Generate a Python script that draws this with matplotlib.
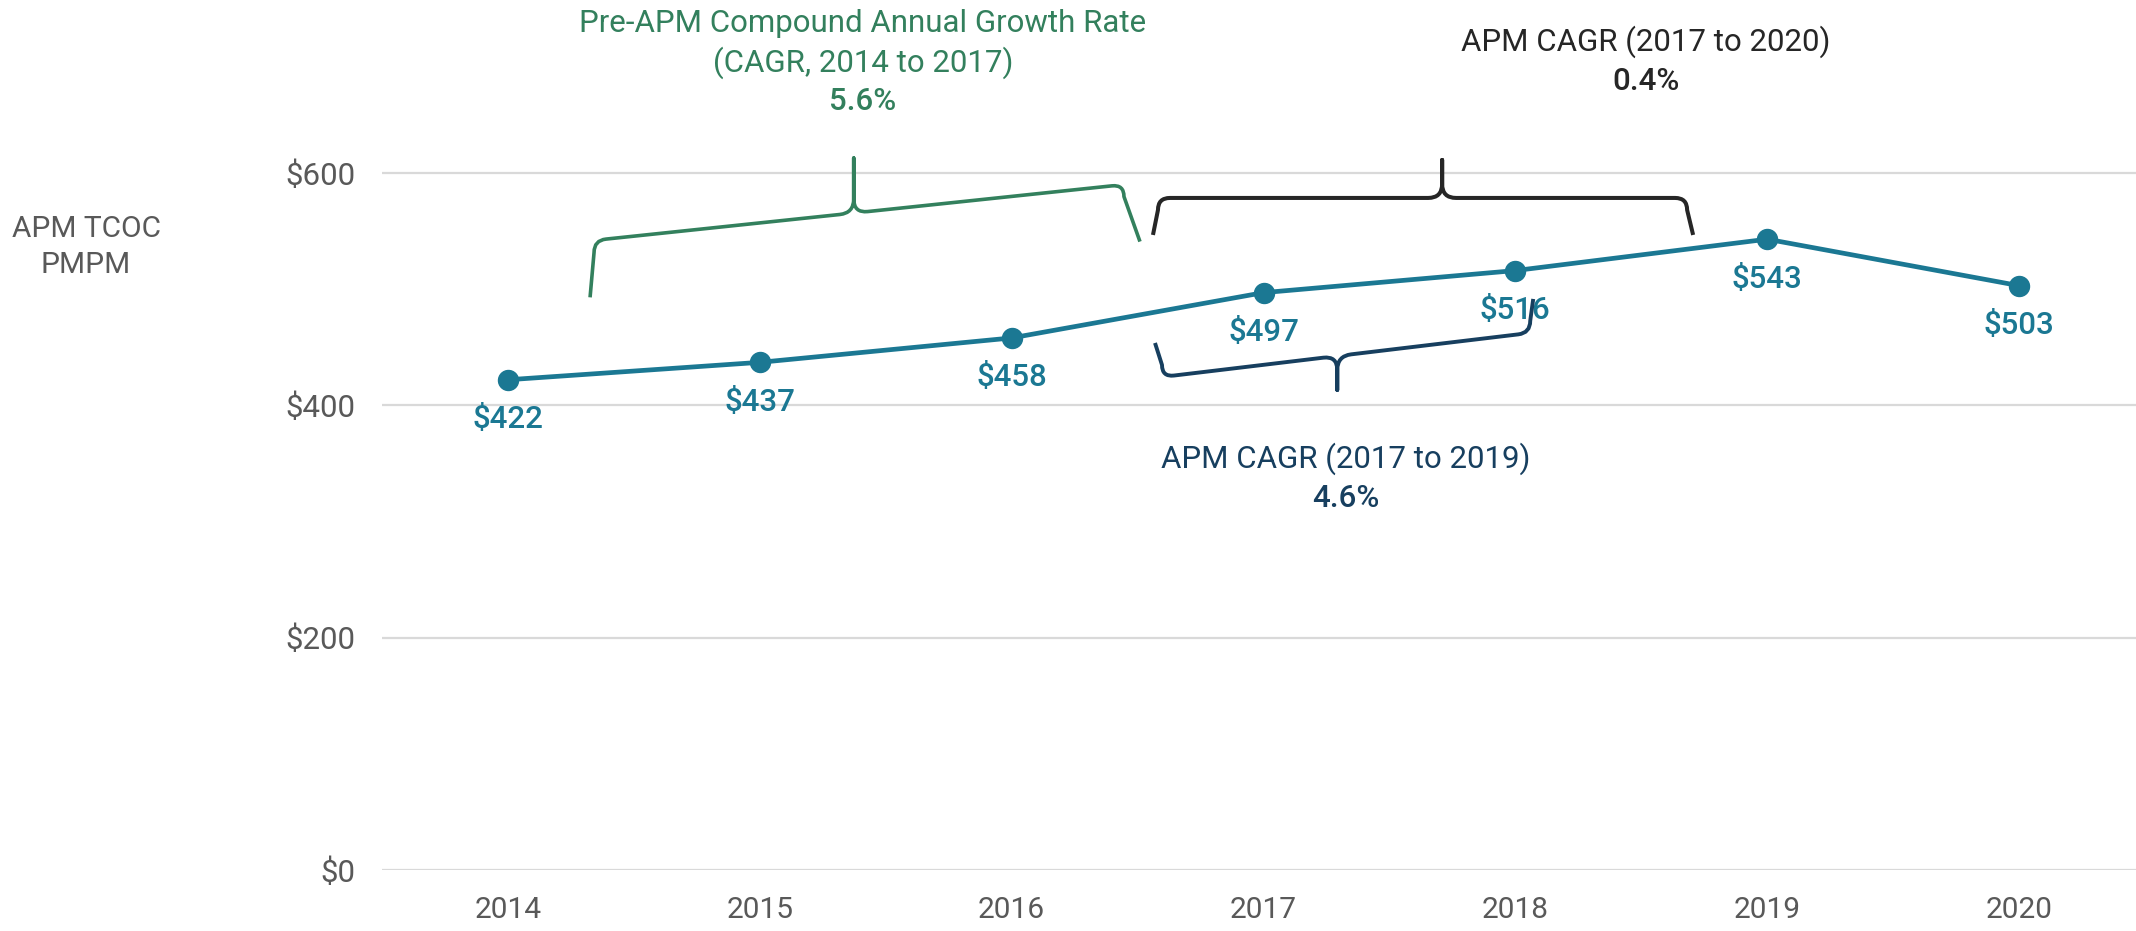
import matplotlib
matplotlib.use("Agg")
import matplotlib.pyplot as plt
from matplotlib.path import Path
from matplotlib.patches import PathPatch
from matplotlib.transforms import IdentityTransform
import numpy as np

# ---------------- data ----------------
years = ["2014", "2015", "2016", "2017", "2018", "2019", "2020"]
tcoc_pmpm = [422, 437, 458, 497, 516, 543, 503]
y_ticks = [0, 200, 400, 600]
y_tick_labels = ["$0", "$200", "$400", "$600"]
y_title = "APM TCOC\nPMPM"

pre_apm_lines = ["Pre-APM Compound Annual Growth Rate", "(CAGR, 2014 to 2017)"]
pre_apm_cagr = "5.6%"
apm_2020_line = "APM CAGR (2017 to 2020)"
apm_2020_cagr = "0.4%"
apm_2019_line = "APM CAGR (2017 to 2019)"
apm_2019_cagr = "4.6%"

# ---------------- style ----------------
W, H, DPI = 2136, 931, 100
LINE_C = "#1B7893"
GREEN = "#33805D"
BLACK = "#262626"
NAVY = "#173F5F"
GRAY = "#595959"
GRID = "#D9D9D9"

plt.rcParams["font.family"] = ["Roboto", "DejaVu Sans"]

fig = plt.figure(figsize=(W / DPI, H / DPI), dpi=DPI)
fig.patch.set_facecolor("white")

ax_l, ax_r, ax_b, ax_t = 382, 2145, 870, 56.8   # pixel frame of axes
ax = fig.add_axes([ax_l / W, 1 - ax_b / H, (ax_r - ax_l) / W, (ax_b - ax_t) / H])
x = np.arange(len(years))
ax.set_xlim(-0.5, len(years) - 0.5)
ax.set_ylim(0, 700)

ax.plot(x, tcoc_pmpm, color=LINE_C, lw=3.4, marker="o", ms=14.4,
        solid_capstyle="round", zorder=3, clip_on=False)
for xi, v in zip(x, tcoc_pmpm):
    ax.annotate(f"${v}", (xi, v), xytext=(0, -28.8), textcoords="offset points",
                ha="center", va="center", fontsize=22.5, color=LINE_C,
                fontweight="medium", parse_math=False, zorder=4)

ax.set_xticks(x, years)
ax.set_yticks(y_ticks, y_tick_labels)
ax.tick_params(axis="x", length=0, pad=19, labelsize=21.5, labelcolor=GRAY)
ax.tick_params(axis="y", length=0, pad=19, labelsize=22.5, labelcolor=GRAY)
ax.grid(axis="y", color=GRID, lw=1.6)
ax.grid(axis="x", visible=False)
ax.set_axisbelow(True)
for s in ax.spines.values():
    s.set_visible(False)


def ftext(px, py, s, **kw):
    fig.text(px / W, 1 - py / H, s, ha="center", va="baseline", parse_math=False, **kw)


ftext(86, 237, y_title.split("\n")[0], fontsize=21.5, color=GRAY)
ftext(86, 273, y_title.split("\n")[1], fontsize=21.5, color=GRAY)

ftext(863, 32, pre_apm_lines[0], fontsize=22.5, color=GREEN)
ftext(863, 72, pre_apm_lines[1], fontsize=22.5, color=GREEN)
ftext(863, 110, pre_apm_cagr, fontsize=22.5, color=GREEN, fontweight="medium")

ftext(1646, 51, apm_2020_line, fontsize=22.5, color=BLACK)
ftext(1646, 90, apm_2020_cagr, fontsize=22.5, color=BLACK, fontweight="medium")

ftext(1346, 468, apm_2019_line, fontsize=22.5, color=NAVY)
ftext(1346, 507, apm_2019_cagr, fontsize=22.5, color=NAVY, fontweight="medium")


def brace(x0, v0, x1, v1, arm, tip, frac, color, lw, up=True, flare=(0, 0), r=12, rt=14):
    T = ax.transData
    p0 = np.array(T.transform((x0, v0)))
    p1 = np.array(T.transform((x1, v1)))
    s = 1.0 if up else -1.0
    vv = np.array([0.0, 1.0])
    hh = np.array([1.0, 0.0])
    u = (p1 - p0) / np.hypot(*(p1 - p0))
    m = p0 + frac * (p1 - p0)
    verts = [p0 - s * arm * vv + flare[0] * hh, p0 - s * r * vv, p0, p0 + r * u,
             m - rt * u, m, m + s * rt * vv, m + s * tip * vv,
             m + s * rt * vv, m, m + rt * u,
             p1 - r * u, p1, p1 - s * r * vv, p1 - s * arm * vv + flare[1] * hh]
    codes = [Path.MOVETO, Path.LINETO, Path.CURVE3, Path.CURVE3,
             Path.LINETO, Path.CURVE3, Path.CURVE3, Path.LINETO,
             Path.LINETO, Path.CURVE3, Path.CURVE3,
             Path.LINETO, Path.CURVE3, Path.CURVE3, Path.LINETO]
    patch = PathPatch(Path(verts, codes), transform=IdentityTransform(), fill=False,
                      edgecolor=color, lw=lw, joinstyle="round", capstyle="butt")
    fig.add_artist(patch)


brace(0.342, 542, 2.446, 590, arm=57, tip=55, frac=0.49, color=GREEN, lw=2.6,
      up=True, flare=(-4, 16))
brace(2.581, 578.5, 4.682, 578.5, arm=37, tip=38, frac=0.537, color=BLACK, lw=2.9,
      up=True, flare=(-5, 6))
brace(2.597, 424.4, 4.059, 462.3, arm=34, tip=34, frac=0.476, color=NAVY, lw=2.8,
      up=False, flare=(-7, 3))

fig.savefig("out.png", dpi=DPI, facecolor="white")
